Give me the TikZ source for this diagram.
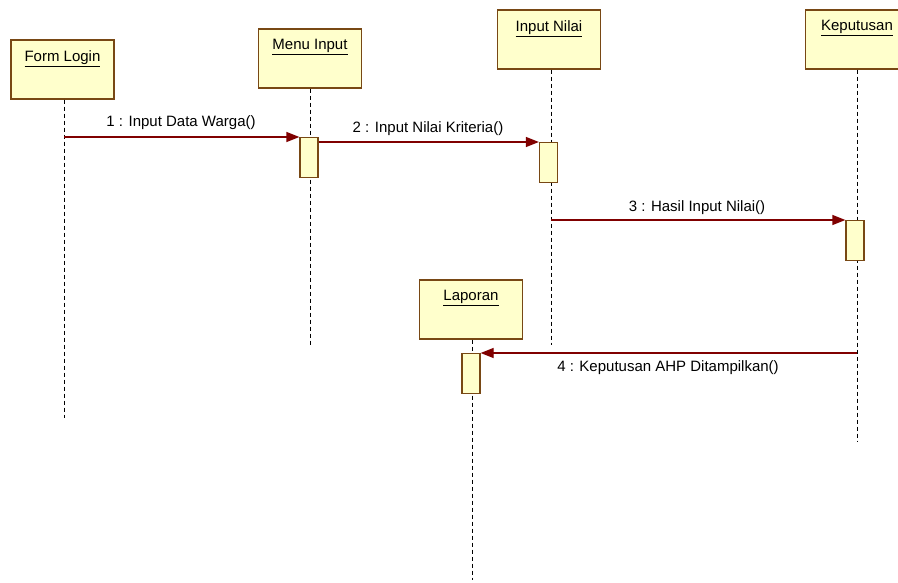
\documentclass[tikz,border=0pt]{standalone}
\usepackage{fontspec}
\setmainfont{Liberation Sans}
\usetikzlibrary{arrows.meta}
\definecolor{objfill}{RGB}{255,255,204}
\definecolor{objedge}{RGB}{120,72,20}
\definecolor{msgline}{RGB}{128,0,0}
\begin{document}
\begin{tikzpicture}[x=1pt,y=-1pt,
  objbox/.style={draw=objedge,fill=objfill,line width=1.3pt,minimum width=103pt,minimum height=59pt,inner sep=0pt},
  actbox/.style={draw=objedge,fill=objfill,line width=1.2pt,minimum width=18pt,minimum height=40pt,inner sep=0pt},
  lifeline/.style={draw=black,line width=1pt,dash pattern=on 4pt off 3pt},
  msg/.style={draw=msgline,line width=1.2pt,-{Triangle[length=13pt,width=10pt,fill=msgline]}},
  msglabel/.style={font=\fontsize{15}{18}\selectfont,inner sep=1pt},
  objlabel/.style={font=\fontsize{15}{18}\selectfont,inner sep=0pt}]
\path[use as bounding box,fill=white] (0,0) rectangle (898,583);
\clip (0,0) rectangle (898,583);

% objects
\node[objbox] (fl) at (62.5,69.5) {};
\node[objbox] (mi) at (310,58.5) {};
\node[objbox] (in) at (549,39.5) {};
\node[objbox] (kp) at (857,39.5) {};
\node[objbox] (lp) at (471,309.5) {};
\node[objlabel] at ([yshift=-19pt]fl.north) {\underline{Form Login}};
\node[objlabel] at ([yshift=-19pt]mi.north) {\underline{Menu Input}};
\node[objlabel] at ([yshift=-19pt]in.north) {\underline{Input Nilai}};
\node[objlabel] at ([yshift=-19pt]kp.north) {\underline{Keputusan}};
\node[objlabel] at ([yshift=-19pt]lp.north) {\underline{Laporan}};

% lifeline ends
\coordinate (flend) at (64,418);
\coordinate (miend) at (310,345);
\coordinate (inend) at (551,345);
\coordinate (kpend) at (857,442);
\coordinate (lpend) at (472,580);
\draw[lifeline] (fl.south -| flend) -- (flend);
\draw[lifeline] (mi.south -| miend) -- (miend);
\draw[lifeline] (in.south -| inend) -- (inend);
\draw[lifeline] (kp.south -| kpend) -- (kpend);
\draw[lifeline] (lp.south -| lpend) -- (lpend);

% activations
\node[actbox,anchor=north] (a1) at (309,137) {};
\node[actbox,anchor=north] (a2) at (548.5,142) {};
\node[actbox,anchor=north] (a3) at (855,220) {};
\node[actbox,anchor=north] (a4) at (471,353) {};

% messages
\coordinate (m1s) at (64,137);
\coordinate (m3s) at (551,220);
\coordinate (m4s) at (857,353);
\draw[msg] (m1s) -- (a1.north west);
\draw[msg] (a1.east |- a2.north) -- (a2.north west);
\draw[msg] (m3s) -- (a3.north west);
\draw[msg] (m4s) -- (a4.north east);

\node[msglabel] at (181,123) {1 : Input Data Warga()};
\node[msglabel] at (428,129) {2 : Input Nilai Kriteria()};
\node[msglabel] at (697,208) {3 : Hasil Input Nilai()};
\node[msglabel] at (668,368) {4 : Keputusan AHP Ditampilkan()};
\end{tikzpicture}
\end{document}
